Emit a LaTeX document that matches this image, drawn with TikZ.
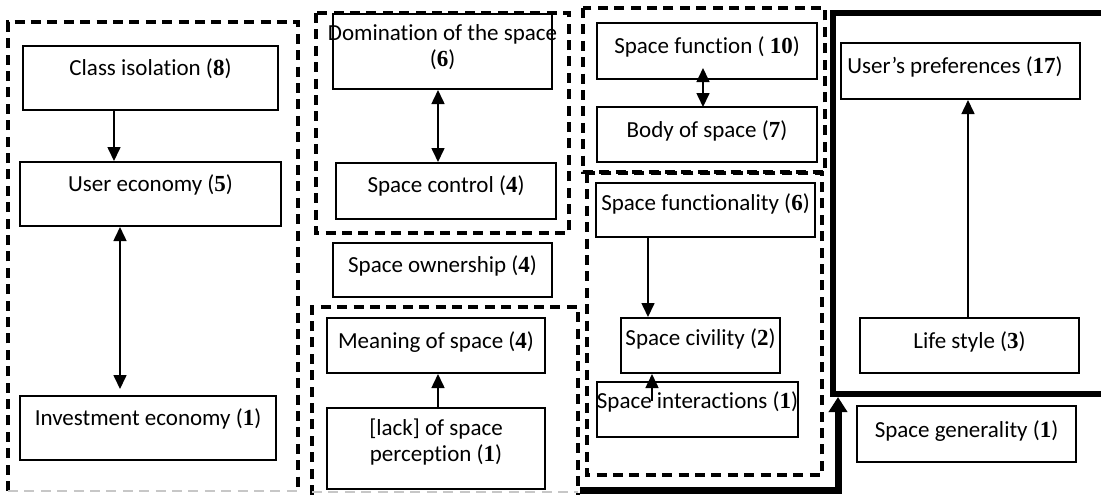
\documentclass[tikz,border=0pt]{standalone}
\usepackage{fontspec}
\setmainfont{Carlito}[Ligatures=NoCommon]
\newfontfamily\numfont{Liberation Serif}
\usetikzlibrary{arrows.meta,fit,calc}
\newcommand\nb[1]{{\numfont\bfseries #1}}

\begin{document}
\begin{tikzpicture}[x=0.5pt,y=-0.5pt,
  box/.style={draw, line width=1pt, inner sep=0pt},
  grp/.style={line width=1.6pt, dash pattern=on 5pt off 3.2pt},
  faint/.style={line width=1.2pt, dash pattern=on 5pt off 3.2pt, black!22},
  lbl/.style={font=\fontsize{11.5}{13}\selectfont, inner sep=0pt, align=center, anchor=base},
  link/.style={line width=0.8pt, -{Triangle[width=6.5pt,length=7pt]}},
  bilink/.style={line width=0.8pt, {Triangle[width=6.5pt,length=7pt]}-{Triangle[width=6.5pt,length=7pt]}},
  heavy/.style={line width=3.2pt, line join=miter},
  heavylink/.style={line width=3.5pt, line join=miter, -{Triangle[width=9pt,length=7.5pt]}}]

\useasboundingbox (0,0) rectangle (1101,495);

% ---- economy group ----
\draw[grp] (8,491) -- (8,22) -- (298,22) -- (298,491);
\draw[faint] (8,491) -- (298,491);
\node[box, fit={(23,46) (278,110)}] (ci) {};
\node[lbl] (cit) at (150.5,75) {Class isolation (\nb{8})};
\node[box, fit={(20,162) (281,226)}] (ue) {};
\node[lbl] (uet) at (150.5,191) {User economy (\nb{5})};
\node[box, fit={(20,396) (276,460)}] (ie) {};
\node[lbl] (iet) at (148,425) {Investment economy (\nb{1})};
\draw[link] ($(ci.south)+(-36.5,0)$) -- ($(ue.north)+(-36.5,0)$);
\draw[bilink] ($(ue.south)+(-30.5,0)$) -- ($(ie.north)+(-28,-6)$);

% ---- control group ----
\draw[grp] (316,13) rectangle (569,233);
\node[box, fit={(333,14) (552,89)}] (dom) {};
% two-line labels are placed by the baseline of their last line
\node[lbl] (domt) at (442.5,66) {Domination of the space\\(\nb{6})};
\node[box, fit={(336,163) (556,219)}] (sc) {};
\node[lbl] (sct) at (446,192) {Space control (\nb{4})};
\draw[bilink] ($(dom.south)+(-4.5,0)$) -- ($(sc.north)+(-8,0)$);

\node[box, fit={(333,243) (552,297)}] (so) {};
\node[lbl] (sot) at (442.5,272) {Space ownership (\nb{4})};

% ---- meaning group ----
\draw[grp] (312,495) -- (312,307) -- (578,307) -- (578,495);
\draw[faint] (312,492) -- (578,492);
\node[box, fit={(327,318) (545,373)}] (mos) {};
\node[lbl] (most) at (436,348) {Meaning of space (\nb{4})};
\node[box, fit={(327,408) (545,489)}] (lsp) {};
\node[lbl] (lspt) at (436,461) {[lack] of space\\perception (\nb{1})};
\draw[link] ($(lsp.north)+(2,0)$) -- ($(mos.south)+(2,0)$);

% ---- function group ----
\draw[grp] (583,8) rectangle (825,172);
\node[box, fit={(597,23) (817,79)}] (sf) {};
\node[lbl] (sft) at (707,53) {Space function ( \nb{10})};
\node[box, fit={(597,107) (817,162)}] (bos) {};
\node[lbl] (bost) at (707,137) {Body of space (\nb{7})};
\draw[bilink] ($(sf.south)+(-4,-12)$) -- ($(bos.north)+(-4,1)$);

% ---- functionality group ----
\draw[grp] (587,173) rectangle (822,475);
\node[box, fit={(596,183) (815,237)}] (sfy) {};
\node[lbl] (sfyt) at (705.5,210) {Space functionality (\nb{6})};
\node[box, fit={(621,318) (780,373)}] (scv) {};
\node[lbl] (scvt) at (700.5,345) {Space civility (\nb{2})};
\node[box, fit={(597,382) (798,437)}] (sin) {};
\node[lbl] (sint) at (697.5,408) {Space interactions (\nb{1})};
\draw[link] ($(sfy.south)+(-57.5,0)$) -- ($(scv.north)+(-52.5,0)$);
\coordinate (sintail) at ($(sin.north)+(-45.5,20)$);
\draw[link] (sintail) -- ($(scv.south)+(-48.5,0)$);

% ---- preferences frame ----
\coordinate (fc) at (833,394);
\draw[heavy] (1110,13) -- (833,13) -- (fc) -- (1110,394);
\node[box, fit={(841,43) (1080,99)}] (up) {};
\node[lbl, anchor=base west] (upt) at (847,73) {User’s preferences (\nb{17})};
\node[box, fit={(860,318) (1079,373)}] (ls) {};
\node[lbl] (lst) at (969.5,348) {Life style (\nb{3})};
\draw[link] ($(ls.north)+(-1.5,0)$) -- ($(up.south)+(7.5,0)$);

\node[box, fit={(857,406) (1076,462)}] (sg) {};
\node[lbl] (sgt) at (966.5,437) {Space generality (\nb{1})};

% ---- heavy connector into the frame ----
\coordinate (hs) at (580,490);
\coordinate (hc) at (838,490);
\draw[heavylink] (hs) -- (hc) -- ($(fc)+(5,3)$);
\end{tikzpicture}
\end{document}
